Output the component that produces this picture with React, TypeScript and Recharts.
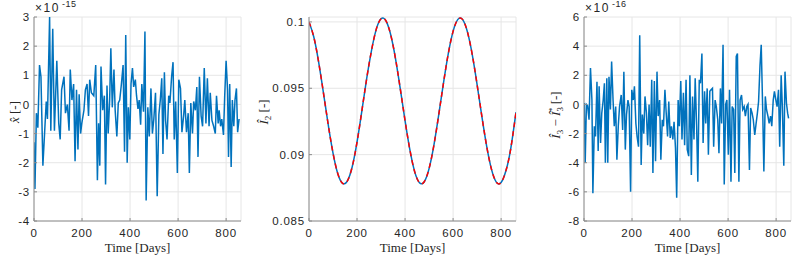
import React from 'react';
import { LineChart, Line, XAxis, YAxis, CartesianGrid, Label } from 'recharts';

// shared x axis (days)
const xTicks = [0, 200, 400, 600, 800];
const xMax = 862;

// left panel: x-hat residual, units of 1e-15
const daysA = [0, 4, 10, 16, 23, 29, 37, 44, 51, 56, 65, 70, 78, 85, 95, 103, 109, 115, 125, 131,
  139, 146, 151, 158, 165, 171, 177, 183, 188, 194, 199, 208, 214, 221, 227, 232, 239, 249, 257, 264,
  269, 274, 279, 286, 293, 298, 304, 309, 315, 320, 326, 333, 338, 345, 351, 357, 364, 371, 377, 382,
  388, 393, 399, 404, 410, 415, 422, 427, 433, 438, 444, 449, 456, 462, 467, 474, 480, 487, 493, 499,
  506, 513, 520, 526, 532, 537, 543, 548, 554, 561, 566, 573, 579, 584, 590, 597, 603, 610, 616, 623,
  628, 635, 642, 647, 653, 660, 665, 672, 678, 683, 689, 696, 702, 709, 716, 722, 729, 734, 741, 748,
  755, 760, 767, 771, 777, 782, 789, 794, 800, 806, 810, 815, 821, 826, 832, 837, 843, 848, 854];
const valsA = [-1.3, -2.9, -0.3, -0.8, 1.35, 0.95, -2.1, -1.0, 0.1, -0.5,
  3.0, -0.9, 2.6, -0.9, 1.5, -0.65, -1.2, 0.5, 0.95, -0.3,
  0, -0.9, 1.2, 0.15, 0.7, -1.95, 0.5, -1.55, 0.35, -1.0,
  -0.65, -0.2, 0.5, 0.7, -0.4, 0.85, 0.4, 0.3, 1.35, -2.6,
  -0.65, -2.1, 1.3, -0.2, 0.3, -2.75, 0.65, -1.0, 0.15, 1.93,
  -0.1, 1.2, -0.2, -1.1, 0.05, 0.15, 0.7, 1.35, -1.62, 2.38,
  -2.0, -0.1, -1.2, 0.7, 1.25, 0.6, 0.85, 0.3, -0.15, 0.15,
  -0.7, 0.7, -0.25, 2.5, -3.3, -0.1, -1.1, 0.55, -1.0, -0.5,
  0.4, -3.15, -0.35, 0.15, 0.9, -1.7, 1.1, -0.55, -1.2, 0.3,
  0.05, 0.95, 1.45, -1.2, 0.1, -2.35, 0.85, 0.55, -0.95, -0.4,
  0.15, -0.95, -0.3, -2.35, 0.05, -1.0, 0.1, -0.2, 0.6, -1.8,
  0.95, -0.4, -0.75, 1.25, -0.65, 0.9, -0.75, 0.4, -0.55, -0.75,
  -1.0, 0.3, -0.65, -0.2, -0.75, -0.5, -1.05, 0.25, 1.5, 0.5,
  -1.8, 0.7, -2.15, 0.15, -0.75, 0.15, 0.55, -0.95, -0.5];
const ticksA = [-4, -3, -2, -1, 0, 1, 2, 3];

// middle panel: I2 hat
const daysB = [0, 20, 40, 60, 80, 100, 120, 140, 160, 180, 200, 220, 240, 260, 280, 300, 320, 340,
  360, 380, 400, 420, 440, 460, 480, 500, 520, 540, 560, 580, 600, 620, 640, 660, 680, 700, 720,
  740, 760, 780, 800, 820, 840, 862];
const valsB = [0.1, 0.09886, 0.09699, 0.09467, 0.09226, 0.09012, 0.08856, 0.08784, 0.08803, 0.08909,
  0.09094, 0.09328, 0.0957, 0.09782, 0.09944, 0.10024, 0.1001, 0.09905, 0.09726, 0.09498,
  0.09256, 0.09037, 0.08872, 0.08788, 0.08796, 0.08895, 0.0907, 0.09297, 0.09539, 0.09761,
  0.09929, 0.10019, 0.10017, 0.09923, 0.09752, 0.09528, 0.09286, 0.09062, 0.08889, 0.08793,
  0.0879, 0.08878, 0.09044, 0.0932];
const ticksB = [0.085, 0.09, 0.095, 0.1];

// right panel: I3 hat - I3 hat*, units of 1e-16
const daysC = [1, 5, 10, 15, 21, 27, 33, 37, 43, 48, 54, 59, 63, 69, 74, 80, 85, 89, 95, 99,
  104, 110, 115, 121, 126, 132, 137, 143, 148, 155, 161, 166, 172, 177, 183, 188, 194, 199, 205, 210,
  216, 221, 227, 232, 238, 243, 249, 254, 260, 265, 271, 276, 282, 287, 293, 298, 304, 309, 315, 320,
  326, 331, 337, 342, 348, 353, 359, 364, 370, 375, 381, 386, 392, 397, 403, 408, 414, 419, 425, 430,
  436, 441, 447, 452, 458, 463, 469, 474, 480, 485, 491, 496, 502, 507, 513, 518, 524, 529, 535, 540,
  546, 551, 557, 562, 568, 573, 579, 584, 590, 595, 601, 606, 612, 617, 623, 628, 634, 639, 645, 650,
  656, 661, 667, 672, 678, 683, 689, 694, 700, 705, 711, 716, 722, 727, 733, 738, 744, 749, 755, 760,
  766, 771, 777, 782, 788, 793, 799, 804, 810, 815, 821, 826, 832, 837, 843, 848, 852];
const valsC = [0.1, -4.0, 0, -0.1, -1.05, 2.5, 0.3, -6.1, -1.5, -2.2,
  1.55, -3.2, 1.25, -2.65, -0.6, 0.3, 1.45, -4.0, 1.8, -4.0,
  1.9, -0.35, 2.95, 0.3, -1.5, -0.15, -3.8, -1.4, -0.15, 0.65,
  -1.75, 2.25, -3.1, -0.7, 0.3, -0.15, -6.0, 1.0, 0.3, 1.25,
  -1.3, -2.2, -2.9, 4.75, -4.15, -0.7, -2.0, 0.55, -0.6, -2.8,
  0, -2.9, 1.7, -4.7, 1.6, -3.9, 2.25, -0.8, 0.3, -3.8,
  -1.05, -1.5, 1.0, -0.5, -2.2, 0.2, -2.3, -1.5, -2.4, -1.2,
  -3.0, -6.4, 0.3, -1.5, 1.6, -2.4, 0.8, -2.8, 1.7, -3.1,
  -3.55, 2.0, -4.85, 0.55, -2.4, 1.8, -1.5, -5.3, 1.7, 1.45,
  3.5, -2.65, 0.9, -1.3, 1.1, -3.45, 0.9, 1.0, 1.1, -2.9,
  0.3, -0.15, -1.05, -3.35, 1.1, -1.3, 4.1, -5.5, 0, 0.3,
  -3.45, 1.0, -5.3, -0.15, -0.35, -4.7, 3.3, 3.5, -5.3, 0.3,
  0.65, -0.35, -0.15, -0.8, -0.15, 0, -4.5, -0.25, -0.6, -1.05,
  -2.1, -1.4, -0.6, 0.2, 2.7, 4.1, -0.25, -4.6, 0.55, -0.35,
  -0.8, -1.3, -0.8, -1.5, 0.3, 0.9, 0.3, -0.15, 1.0, -2.9,
  2.0, -0.15, -4.2, 2.25, 0.1, -0.6, -0.95];
const ticksC = [-8, -6, -4, -2, 0, 2, 4, 6];

const dataA = daysA.map((d, i) => ({ d, v: valsA[i] }));
const dataB = daysB.map((d, i) => ({ d, v: valsB[i] }));
const dataC = daysC.map((d, i) => ({ d, v: valsC[i] }));

const AXIS = '#8c8c8c';
const TXT = '#262626';
const SANS = 'Liberation Sans, Arial, sans-serif';
const SERIF = 'Liberation Serif, Times New Roman, serif';
const tickStyle = { fill: TXT, fontSize: 11.5, fontFamily: SANS, letterSpacing: 0.8 };
const YW = 64; // y axis box width, leaves room for the rotated label

const YLab = ({ x, y, children }: any) => (
  <text x={x} y={y} transform={`rotate(-90 ${x} ${y})`} textAnchor="middle" fill={TXT}
    fontSize={13} fontFamily={SERIF}>
    {children}
  </text>
);

interface PanelProps {
  left: number;
  data: { d: number; v: number }[];
  yDomain: [number, number];
  yTicks: number[];
  yLabel: React.ReactNode;
  labelX: number;
  labelY: number;
  dashed?: boolean;
}

const Panel: React.FC<PanelProps> = ({ left, data, yDomain, yTicks, yLabel, labelX, labelY, dashed }) => (
  <div style={{ position: 'absolute', left: left - YW, top: 0 }}>
    <LineChart width={YW + 212} height={259} data={data} margin={{ top: 17, right: 5, left: 0, bottom: 0 }}>
      <CartesianGrid stroke="#e6e6e6" />
      <XAxis dataKey="d" type="number" domain={[0, xMax]} ticks={xTicks} allowDataOverflow
        height={38} tickSize={-3} tickMargin={11} tick={tickStyle}
        axisLine={{ stroke: AXIS }} tickLine={{ stroke: AXIS }}>
        <Label value="Time [Days]" position="insideBottom" offset={7}
          style={{ fill: TXT, fontSize: 13, fontFamily: SERIF }} />
      </XAxis>
      <XAxis xAxisId="top" orientation="top" dataKey="d" type="number" domain={[0, xMax]} ticks={xTicks}
        allowDataOverflow height={0} tickSize={-3} tick={false}
        axisLine={{ stroke: AXIS }} tickLine={{ stroke: AXIS }} />
      <YAxis type="number" domain={yDomain} ticks={yTicks} allowDataOverflow width={YW}
        tickSize={-3} tickMargin={7} tick={tickStyle}
        axisLine={{ stroke: AXIS }} tickLine={{ stroke: AXIS }}
        label={{ content: () => <YLab x={labelX - left + YW} y={labelY}>{yLabel}</YLab> }} />
      <YAxis yAxisId="right" orientation="right" type="number" domain={yDomain} ticks={yTicks}
        allowDataOverflow width={0} tickSize={-3} tick={false}
        axisLine={{ stroke: AXIS }} tickLine={{ stroke: AXIS }} />
      <Line type={dashed ? 'natural' : 'linear'} dataKey="v" stroke="#0072BD" strokeWidth={1.5}
        dot={false} isAnimationActive={false} />
      {dashed && (
        <Line type="natural" dataKey="v" stroke="#ff0000" strokeWidth={1.5} strokeDasharray="5 4"
          dot={false} isAnimationActive={false} />
      )}
    </LineChart>
  </div>
);

const Exponent = ({ left, exp }: { left: number; exp: string }) => (
  <div style={{ position: 'absolute', left, top: 0, fontFamily: SANS, color: TXT, whiteSpace: 'nowrap' }}>
    <span style={{ position: 'absolute', left: 0, top: 1, fontSize: 12, letterSpacing: 1.5, lineHeight: '14px' }}>×10</span>
    <span style={{ position: 'absolute', left: 27, top: 0, fontSize: 9, letterSpacing: 0.5, lineHeight: '9px' }}>{exp}</span>
  </div>
);

const sub = (t: string) => <tspan dy={3} fontSize={9}>{t}</tspan>;

export default function App() {
  return (
    <div style={{ position: 'fixed', left: 0, top: 0, width: 793, height: 259, background: '#fff', overflow: 'hidden' }}>
      <Panel left={34} data={dataA} yDomain={[-4, 3]} yTicks={ticksA} labelX={19} labelY={112}
        yLabel={<><tspan fontStyle="italic">x&#770;</tspan><tspan> [-]</tspan></>} />
      <Panel left={309} data={dataB} yDomain={[0.085, 0.10037]} yTicks={ticksB} labelX={268} labelY={112} dashed
        yLabel={<><tspan fontStyle="italic">Î</tspan>{sub('2')}<tspan dy={-3}> [-]</tspan></>} />
      <Panel left={584} data={dataC} yDomain={[-8, 6]} yTicks={ticksC} labelX={560} labelY={115}
        yLabel={<><tspan fontStyle="italic">Î</tspan>{sub('3')}<tspan dy={-3}> − </tspan>
          <tspan fontStyle="italic">Î</tspan>{sub('3')}<tspan dx={-5} dy={-8} fontSize={9}>*</tspan>
          <tspan dy={5}> [-]</tspan></>} />
      <Exponent left={35} exp="-15" />
      <Exponent left={585} exp="-16" />
    </div>
  );
}
